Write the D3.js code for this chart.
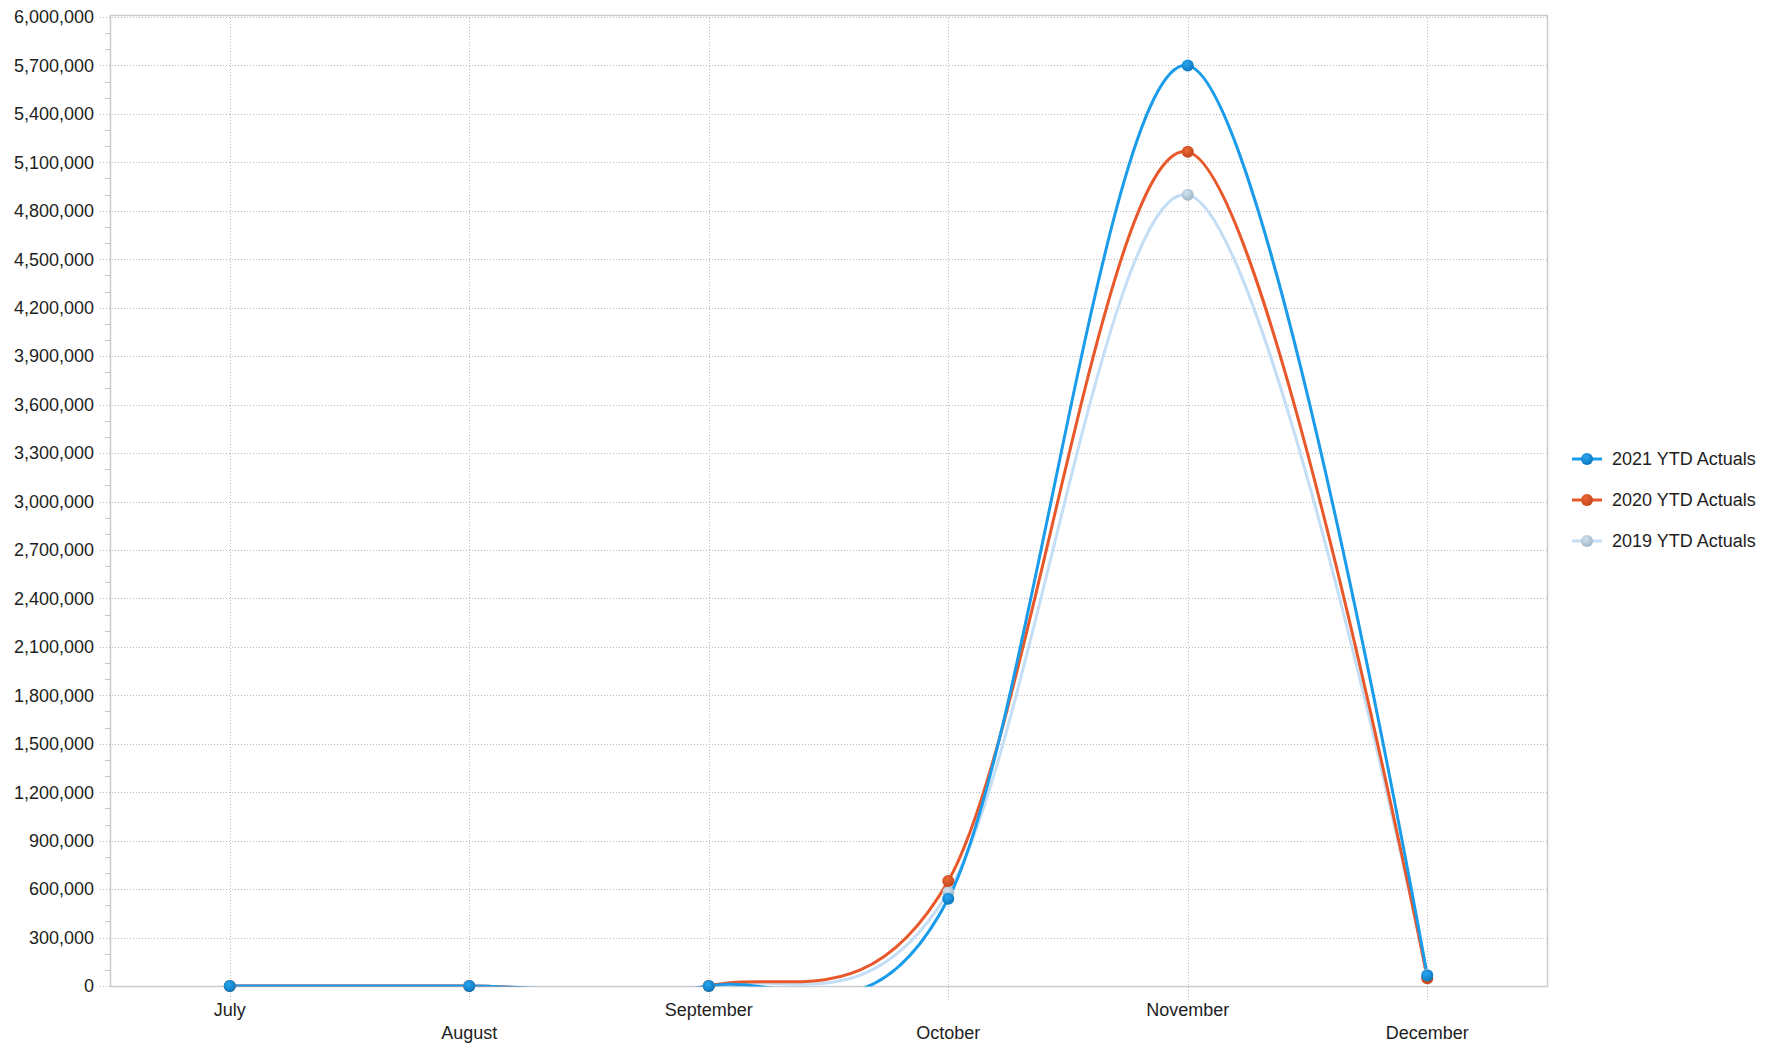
<!DOCTYPE html>
<html>
<head>
<meta charset="utf-8">
<script src="https://cdn.jsdelivr.net/npm/d3@7"></script>
<style>
  html, body { margin: 0; padding: 0; background: #ffffff; }
  svg { display: block; font-family: "Liberation Sans", Arial, sans-serif; }
</style>
</head>
<body>
<svg id="chart" width="1784" height="1045"></svg>
<script>
// ---- data ----
const months = ["July", "August", "September", "October", "November", "December"];
const seriesNames = ["2021 YTD Actuals", "2020 YTD Actuals", "2019 YTD Actuals"];
const values2021 = [0, 0, 0, 540000, 5700000, 65000];
const values2020 = [0, 0, 0, 650000, 5165000, 48000];
const values2019 = [0, 0, 0, 580000, 4900000, 70000];
const yTickValues = d3.range(0, 6000001, 300000);
const yMinorTickValues = d3.range(0, 6000001, 100000);

// ---- styles ----
const lineColors = { "2021 YTD Actuals": "#1a9cea", "2020 YTD Actuals": "#e8582a", "2019 YTD Actuals": "#c4def6" };
const markerInner = { "2021 YTD Actuals": "#2aa6f0", "2020 YTD Actuals": "#ec6a38", "2019 YTD Actuals": "#d2e2ee" };
const markerOuter = { "2021 YTD Actuals": "#0a78c0", "2020 YTD Actuals": "#c24418", "2019 YTD Actuals": "#9fb8c8" };

const svg = d3.select("#chart");
const plot = { left: 110, right: 1547, top: 15, bottom: 986 };

const x = d3.scaleBand().domain(months).range([plot.left, plot.right]);
const xc = m => x(m) + x.bandwidth() / 2;
const y = d3.scaleLinear().domain([0, 6000000]).range([plot.bottom, 17]);

const defs = svg.append("defs");
seriesNames.forEach((n, i) => {
  const g = defs.append("radialGradient").attr("id", "mk" + i).attr("cx", "40%").attr("cy", "35%").attr("r", "65%");
  g.append("stop").attr("offset", "0%").attr("stop-color", markerInner[n]);
  g.append("stop").attr("offset", "100%").attr("stop-color", markerOuter[n]);
});
defs.append("clipPath").attr("id", "plotclip").append("rect")
  .attr("x", plot.left).attr("y", plot.top).attr("width", plot.right - plot.left).attr("height", plot.bottom - plot.top + 0.5);

// horizontal grid lines (extend a bit left of axis like ticks)
svg.append("g").selectAll("line").data(yTickValues.filter(v => v > 0)).join("line")
  .attr("x1", plot.left - 10).attr("x2", plot.right)
  .attr("y1", d => Math.round(y(d)) + 0.5).attr("y2", d => Math.round(y(d)) + 0.5)
  .attr("stroke", "#b8b8b8").attr("stroke-width", 1).attr("stroke-dasharray", "1,2");
// zero tick
svg.append("line").attr("x1", plot.left - 10).attr("x2", plot.left)
  .attr("y1", Math.round(y(0)) + 0.5).attr("y2", Math.round(y(0)) + 0.5)
  .attr("stroke", "#b8b8b8").attr("stroke-dasharray", "1,2");

// minor ticks
svg.append("g").selectAll("line").data(yMinorTickValues.filter(v => v % 300000 !== 0)).join("line")
  .attr("x1", plot.left - 5).attr("x2", plot.left)
  .attr("y1", d => Math.round(y(d)) + 0.5).attr("y2", d => Math.round(y(d)) + 0.5)
  .attr("stroke", "#c4c4c4").attr("stroke-width", 1);

// vertical grid lines
svg.append("g").selectAll("line").data(months).join("line")
  .attr("x1", d => Math.round(xc(d)) + 0.5).attr("x2", d => Math.round(xc(d)) + 0.5)
  .attr("y1", plot.top).attr("y2", plot.bottom + 14)
  .attr("stroke", "#b8b8b8").attr("stroke-width", 1).attr("stroke-dasharray", "1,2");

// frame
svg.append("rect").attr("x", plot.left + 0.5).attr("y", plot.top + 0.5)
  .attr("width", plot.right - plot.left).attr("height", plot.bottom - plot.top)
  .attr("fill", "none").attr("stroke", "#c8ccd2").attr("stroke-width", 1.5);

// y labels
const fmt = d3.format(",");
svg.append("g").selectAll("text").data(yTickValues).join("text")
  .attr("x", 94).attr("y", d => y(d)).attr("dy", "0.35em")
  .attr("text-anchor", "end").attr("font-size", 18).attr("fill", "#1e1e1e")
  .text(d => fmt(d));

// x labels (staggered)
svg.append("g").selectAll("text").data(months).join("text")
  .attr("x", d => xc(d)).attr("y", (d, i) => i % 2 === 0 ? 1016 : 1039)
  .attr("text-anchor", "middle").attr("font-size", 18).attr("fill", "#1e1e1e")
  .text(d => d);

// series
const seriesData = { "2021 YTD Actuals": values2021, "2020 YTD Actuals": values2020, "2019 YTD Actuals": values2019 };
const lineGen = d3.line().x(d => xc(d.m)).y(d => y(d.v)).curve(d3.curveCardinal.tension(0));

const drawOrder = ["2019 YTD Actuals", "2020 YTD Actuals", "2021 YTD Actuals"];
const linesG = svg.append("g").attr("clip-path", "url(#plotclip)");
drawOrder.forEach(name => {
  const pts = months.map((m, i) => ({ m, v: seriesData[name][i] }));
  linesG.append("path").attr("d", lineGen(pts)).attr("fill", "none")
    .attr("stroke", lineColors[name]).attr("stroke-width", 3);
});
drawOrder.forEach(name => {
  const vals = seriesData[name];
  const idx = seriesNames.indexOf(name);
  svg.append("g").selectAll("circle")
    .data(months.map((m, i) => ({ m, v: vals[i] }))).join("circle")
    .attr("cx", d => xc(d.m)).attr("cy", d => y(d.v)).attr("r", 6)
    .attr("fill", `url(#mk${idx})`);
});

// legend
const legend = svg.append("g");
seriesNames.forEach((n, i) => {
  const ly = 459 + i * 41;
  legend.append("line").attr("x1", 1572).attr("x2", 1602).attr("y1", ly).attr("y2", ly)
    .attr("stroke", lineColors[n]).attr("stroke-width", 3);
  legend.append("circle").attr("cx", 1587).attr("cy", ly).attr("r", 6).attr("fill", `url(#mk${i})`);
  legend.append("text").attr("x", 1612).attr("y", ly).attr("dy", "0.35em")
    .attr("font-size", 18).attr("fill", "#1e1e1e").text(n);
});
</script>
</body>
</html>
